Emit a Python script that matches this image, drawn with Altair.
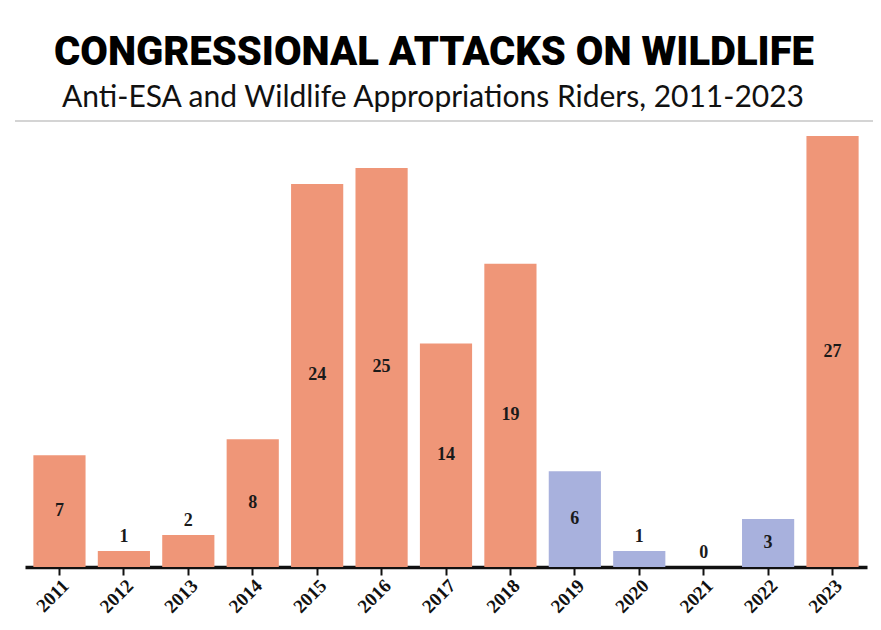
import altair as alt
import pandas as pd

years = ["2011", "2012", "2013", "2014", "2015", "2016", "2017", "2018",
         "2019", "2020", "2021", "2022", "2023"]
riders = [7, 1, 2, 8, 24, 25, 14, 19, 6, 1, 0, 3, 27]
house_majority = ["R", "R", "R", "R", "R", "R", "R", "R", "D", "D", "D", "D", "R"]

title_text = "CONGRESSIONAL ATTACKS ON WILDLIFE"
subtitle_text = "Anti-ESA and Wildlife Appropriations Riders, 2011-2023"

df = pd.DataFrame({"year": years, "riders": riders, "house": house_majority})

x_enc = alt.X("year:N", sort=years, title=None,
              scale=alt.Scale(paddingInner=0.19, paddingOuter=0.13),
              axis=alt.Axis(labelAngle=-45, labelFont="Liberation Serif",
                            labelFontWeight="bold", labelFontSize=19,
                            labelColor="#111", domainColor="#111", domainWidth=3.5,
                            tickColor="#111", tickWidth=2, tickSize=8,
                            labelPadding=1, grid=False))
y_scale = alt.Scale(domain=[0, 27])

bars = alt.Chart(df).mark_bar().encode(
    x=x_enc,
    y=alt.Y("riders:Q", scale=y_scale, axis=None),
    color=alt.Color("house:N", scale=alt.Scale(domain=["R", "D"], range=["#EF9678", "#A8B1DD"]),
                    legend=None),
)

labels = alt.Chart(df).transform_calculate(
    ly="datum.riders >= 3 ? datum.riders / 2 : datum.riders + 0.9"
).mark_text(font="Liberation Serif", fontWeight="bold", fontSize=18,
            color="#1a1a1a", baseline="middle").encode(
    x=alt.X("year:N", sort=years),
    y=alt.Y("ly:Q", scale=y_scale),
    text="riders:Q",
)

head = alt.Chart(pd.DataFrame({"t": [title_text]})).mark_text(
    font="Roboto", fontWeight=900,
    fontSize=40, color="#000", baseline="alphabetic", align="center"
).encode(x=alt.value(409), y=alt.value(-71), text="t:N")

sub = alt.Chart(pd.DataFrame({"t": [subtitle_text]})).mark_text(
    font="Lato", fontSize=30, color="#111", baseline="alphabetic", align="center"
).encode(x=alt.value(408), y=alt.value(-29), text="t:N")

line = alt.Chart(pd.DataFrame({"a": [0]})).mark_rule(color="#d4d4d4", strokeWidth=2).encode(
    x=alt.value(-10), x2=alt.value(850), y=alt.value(-15)
)

chart = alt.layer(line, head, sub, bars, labels).properties(
    width=842, height=431,
    autosize=alt.AutoSizeParams(type="none"),
    padding={"left": 17, "top": 128, "right": 6, "bottom": 55},
    background="white",
).configure_view(stroke=None)

chart.save("out.html", embed_options={"renderer": "svg", "actions": False})
